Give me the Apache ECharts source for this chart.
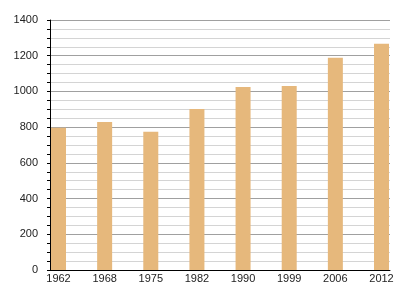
<!DOCTYPE html>
<html><head><meta charset="utf-8">
<script src="https://cdn.jsdelivr.net/npm/echarts@6/dist/echarts.min.js"></script>
<style>html,body{margin:0;padding:0;background:#fff}#c{width:400px;height:300px}</style>
</head><body><div id="c"></div>
<script>
const categories = ['1962','1968','1975','1982','1990','1999','2006','2012'];
const population = [797, 829, 774, 902, 1025, 1030, 1189, 1267];
const yTicks = [0, 200, 400, 600, 800, 1000, 1200, 1400];

const chart = echarts.init(document.getElementById('c'), null, {renderer: 'canvas'});
const font = {fontFamily: 'Liberation Sans, Arial, sans-serif', fontSize: 11, color: '#222'};
chart.setOption({
  animation: false,
  backgroundColor: '#fff',
  grid: [
    {left: 50, right: 10, top: 20, bottom: 30},
    {left: 58.5, right: 18.5, top: 20, bottom: 30}
  ],
  xAxis: [
    {type: 'value', gridIndex: 0, min: 0, max: 1, show: true,
     axisLine: {show: true, lineStyle: {color: '#000', width: 1}},
     axisTick: {show: false}, axisLabel: {show: false}, splitLine: {show: false}},
    {type: 'category', gridIndex: 1, data: categories, boundaryGap: false,
     axisLine: {show: false}, axisTick: {show: false},
     axisLabel: Object.assign({margin: 3, interval: 0}, font)}
  ],
  yAxis: [
    {type: 'value', gridIndex: 0, min: yTicks[0], max: yTicks[yTicks.length-1], interval: 200,
     axisLine: {show: true, lineStyle: {color: '#000', width: 1}},
     axisTick: {show: true, length: 3, lineStyle: {color: '#000'}},
     minorTick: {show: true, splitNumber: 4, length: 3, lineStyle: {color: '#000'}},
     axisLabel: Object.assign({margin: 12, formatter: v => String(v)}, font),
     splitLine: {show: true, lineStyle: {color: '#a0a0a0', width: 1}},
     minorSplitLine: {show: true, lineStyle: {color: '#d4d4d4', width: 1}}},
    {type: 'value', gridIndex: 1, min: 0, max: 1400, show: false}
  ],
  series: [{
    type: 'bar', xAxisIndex: 1, yAxisIndex: 1, data: population,
    barWidth: 15, clip: false,
    itemStyle: {color: '#e6b87c'}
  }]
});
</script></body></html>
